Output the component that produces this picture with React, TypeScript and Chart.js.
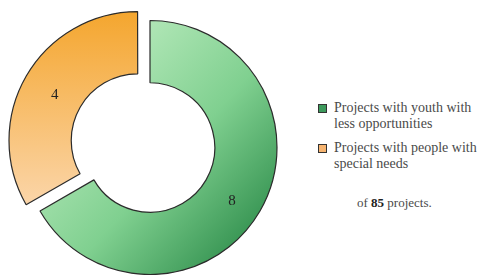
import React, { useEffect, useRef } from "react";
import { Chart, registerables } from "chart.js";

Chart.register(...registerables);

const categories = ["Projects with youth with less opportunities", "Projects with people with special needs"];
const legendLines = [["Projects with youth with", "less opportunities"], ["Projects with people with", "special needs"]];
const values = [8, 4];
const totalProjects = 85;
// Chart.js arc draws offset / 4 pixels
const offsets = [0, 56];

const labelShift = [
  [-1, 6],
  [0, 3],
];

const labelPlugin = {
  id: "sliceLabels",
  afterDatasetsDraw(chart: any) {
    const ctx = chart.ctx;
    const meta = chart.getDatasetMeta(0);
    ctx.save();
    ctx.font = "15px 'Liberation Serif', serif";
    ctx.fillStyle = "#222";
    ctx.textAlign = "center";
    ctx.textBaseline = "middle";
    meta.data.forEach((arc: any, i: number) => {
      const a = arc.getProps(["x", "y", "startAngle", "endAngle", "innerRadius", "outerRadius"]);
      const mid = (a.startAngle + a.endAngle) / 2;
      const r = (a.innerRadius + a.outerRadius) / 2 + (offsets[i] || 0) / 4;
      const x = a.x + Math.cos(mid) * r + labelShift[i][0];
      const y = a.y + Math.sin(mid) * r + labelShift[i][1];
      ctx.fillText(String(chart.data.datasets[0].data[i]), x, y);
    });
    ctx.restore();
  },
};

export default function App() {
  const ref = useRef<HTMLCanvasElement>(null);
  useEffect(() => {
    document.body.style.margin = "0";
    const canvas = ref.current!;
    const chart = new Chart(canvas, {
      type: "doughnut",
      data: {
        labels: categories,
        datasets: [
          {
            data: values,
            offset: offsets,
            borderColor: "#2b2b2b",
            borderWidth: 1.2,
            backgroundColor: (c: any) => {
              const ctx = c.chart.ctx;
              if (c.dataIndex === 0) {
                const g = ctx.createLinearGradient(70, 80, 260, 255);
                g.addColorStop(0, "#b8eabc");
                g.addColorStop(0.5, "#80d090");
                g.addColorStop(1, "#2a8a48");
                return g;
              }
              const g = ctx.createLinearGradient(0, 15, 0, 210);
              g.addColorStop(0, "#f4a52c");
              g.addColorStop(1, "#fbd5a8");
              return g;
            },
          } as any,
        ],
      },
      options: {
        animation: false,
        responsive: false,
        radius: 127,
        cutout: "51%",
        layout: { padding: { top: 20, bottom: 0, left: 0, right: 0 } },
        plugins: { legend: { display: false }, tooltip: { enabled: false } },
      } as any,
      plugins: [labelPlugin],
    });
    return () => chart.destroy();
  }, []);

  const boxColors = ["#3d9a5c", "#f6b470"];
  const itemTops = [100, 140];
  return (
    <div style={{ position: "relative", width: 483, height: 275, background: "#fff" }}>
      <canvas ref={ref} width={300} height={275} style={{ position: "absolute", left: 0, top: 0 }} />
      {legendLines.map((lines, i) => (
        <div key={i} style={{ position: "absolute", left: 318, top: itemTops[i], display: "flex", fontFamily: "'Liberation Serif', serif", fontSize: 14, lineHeight: "15.5px", color: "#4a4a4a", whiteSpace: "nowrap" }}>
          <div style={{ width: 7, height: 7, marginTop: 4, border: "1px solid #333", background: boxColors[i], marginRight: 7, flexShrink: 0 }} />
          <div>
            {lines.map((l, j) => (
              <div key={j}>{l}</div>
            ))}
          </div>
        </div>
      ))}
      <div style={{ position: "absolute", left: 357, top: 195, fontFamily: "'Liberation Serif', serif", fontSize: 13, color: "#4a4a4a", whiteSpace: "nowrap" }}>
        of <b style={{ color: "#222" }}>{totalProjects}</b> projects.
      </div>
    </div>
  );
}
